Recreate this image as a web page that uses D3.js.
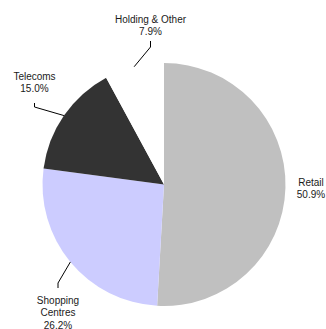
<!DOCTYPE html>
<html>
<head>
<meta charset="utf-8">
<script src="https://cdn.jsdelivr.net/npm/d3@7"></script>
<style>
  body { margin: 0; background: #fff; }
  svg { display: block; }
</style>
</head>
<body>
<div id="pie"></div>
<script>
// data
var segments = ["Retail", "Shopping Centres", "Telecoms", "Holding & Other"];
var shares = [50.9, 26.2, 15.0, 7.9];
var labelLines = [["Retail"], ["Shopping", "Centres"], ["Telecoms"], ["Holding & Other"]];
var colours = ["#c0c0c0", "#ccccff", "#333333", "#ffffff"];

// label placement (x centre, first baseline, leader elbow, leader top)
var labelPos = {
  "Retail":           {x: 311, y: 186, elbow: null, tip: null},
  "Shopping Centres": {x: 58, y: 304, elbow: 283, tip: 288},
  "Telecoms":         {x: 34.5, y: 79.7, elbow: 107, tip: 103},
  "Holding & Other":  {x: 150.5, y: 22.7, elbow: 47, tip: 41}
};

var width = 326, height = 329,
    cx = 164, cy = 184.5, radius = 121.5,
    lineH = 12.4;

var svg = d3.select("#pie")
  .append("svg")
    .attr("width", width)
    .attr("height", height);

var g = svg.append("g")
    .attr("transform", "translate(" + cx + "," + cy + ")");

var data = segments.map(function(d, i) {
  return {name: d, value: shares[i], lines: labelLines[i], colour: colours[i]};
});

var pie = d3.pie()
  .sort(null)
  .value(function(d) { return d.value; });

var arc = d3.arc()
  .innerRadius(0)
  .outerRadius(radius);

var arcs = pie(data);

g.selectAll("path.slice")
  .data(arcs)
  .enter()
  .append("path")
    .attr("class", "slice")
    .attr("d", arc)
    .attr("fill", function(d) { return d.data.colour; });

// leader lines, from the rim at the slice's mid angle
var rim = d3.arc().innerRadius(radius).outerRadius(radius);
svg.selectAll("path.leader")
  .data(arcs.filter(function(d) { return labelPos[d.data.name].elbow != null; }))
  .enter()
  .append("path")
    .attr("class", "leader")
    .attr("fill", "none")
    .attr("stroke", "#000")
    .attr("stroke-width", 1)
    .attr("d", function(d) {
      var p = rim.centroid(d);
      var L = labelPos[d.data.name];
      return "M" + (p[0] + cx) + "," + (p[1] + cy) +
             "L" + L.x + "," + L.elbow +
             "L" + L.x + "," + L.tip;
    });

// labels
var labels = svg.selectAll("text.lbl")
  .data(arcs)
  .enter()
  .append("text")
    .attr("class", "lbl")
    .attr("text-anchor", "middle")
    .style("font-family", "'Liberation Sans', Arial, sans-serif")
    .style("font-size", "10px")
    .attr("fill", "#1a1a1a");

labels.each(function(d) {
  var L = labelPos[d.data.name];
  var t = d3.select(this);
  var rows = d.data.lines.concat([d3.format(".1f")(d.data.value) + "%"]);
  rows.forEach(function(r, i) {
    t.append("tspan")
      .attr("x", L.x)
      .attr("y", L.y + i * lineH)
      .text(r);
  });
});
</script>
</body>
</html>
